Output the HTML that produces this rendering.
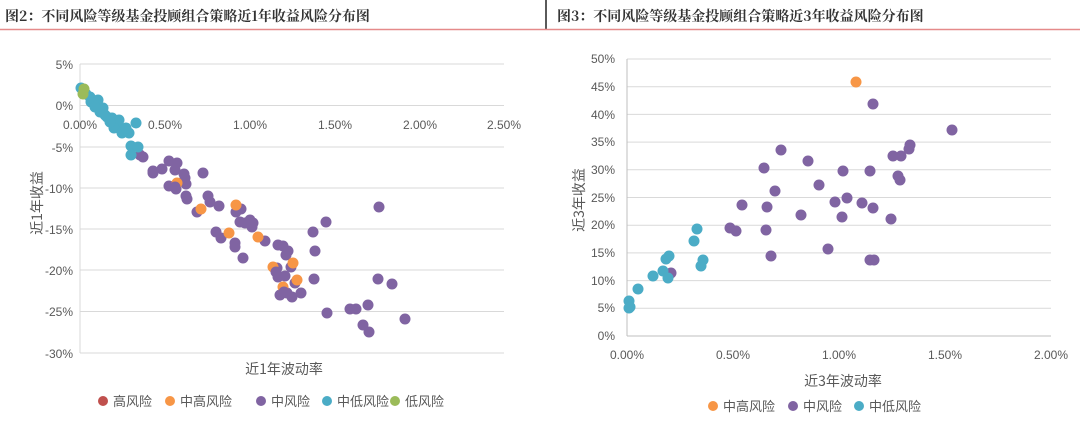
<!DOCTYPE html>
<html><head><meta charset="utf-8"><style>
body{margin:0;background:#fff;}
svg{display:block;font-family:"Liberation Sans","Noto Sans CJK SC",sans-serif;}
</style></head><body>
<svg width="1080" height="440" xmlns="http://www.w3.org/2000/svg">
<rect width="1080" height="440" fill="#fff"/>
<text x="5" y="21" font-size="14" fill="#333" font-weight="bold" font-family="'Noto Serif CJK SC',serif">图2：不同风险等级基金投顾组合策略近1年收益风险分布图</text>
<text x="557" y="21" font-size="14" fill="#333" font-weight="bold" font-family="'Noto Serif CJK SC',serif">图3：不同风险等级基金投顾组合策略近3年收益风险分布图</text>
<line x1="546" y1="0" x2="546" y2="29" stroke="#222" stroke-width="1.5"/>
<line x1="0" y1="29.5" x2="1080" y2="29.5" stroke="#e58a8a" stroke-width="1.5"/>

<!-- LEFT CHART -->
<g stroke="#d9d9d9" stroke-width="1">
<line x1="80" y1="64" x2="504" y2="64"/><line x1="80" y1="105.5" x2="504" y2="105.5"/>
<line x1="80" y1="147" x2="504" y2="147"/><line x1="80" y1="188" x2="504" y2="188"/>
<line x1="80" y1="229" x2="504" y2="229"/><line x1="80" y1="270" x2="504" y2="270"/>
<line x1="80" y1="311.5" x2="504" y2="311.5"/><line x1="80" y1="353" x2="504" y2="353"/>
<line x1="80" y1="64" x2="80" y2="353"/>
</g>
<g font-size="12" fill="#595959" text-anchor="end">
<text x="73" y="69">5%</text><text x="73" y="110">0%</text><text x="73" y="152">-5%</text>
<text x="73" y="193">-10%</text><text x="73" y="234">-15%</text><text x="73" y="275">-20%</text>
<text x="73" y="316">-25%</text><text x="73" y="358">-30%</text>
</g>
<g font-size="12" fill="#595959" text-anchor="middle">
<text x="80" y="129">0.00%</text><text x="165" y="129">0.50%</text><text x="250" y="129">1.00%</text>
<text x="335" y="129">1.50%</text><text x="420" y="129">2.00%</text><text x="504" y="129">2.50%</text>
</g>
<text x="284" y="374" font-size="14" fill="#595959" text-anchor="middle" font-family="'Noto Sans CJK SC',sans-serif">近1年波动率</text>
<text transform="translate(42,203) rotate(-90)" font-size="14" fill="#595959" text-anchor="middle" font-family="'Noto Sans CJK SC',sans-serif">近1年收益</text>

<g fill="#8064a2">
<circle cx="143" cy="157" r="5.5"/><circle cx="140" cy="155" r="5.5"/><circle cx="153" cy="171" r="5.5"/><circle cx="153" cy="173" r="5.5"/>
<circle cx="162" cy="169" r="5.5"/><circle cx="169" cy="161" r="5.5"/><circle cx="177" cy="163" r="5.5"/><circle cx="175" cy="170" r="5.5"/>
<circle cx="184" cy="174" r="5.5"/><circle cx="185" cy="178" r="5.5"/><circle cx="186" cy="184" r="5.5"/><circle cx="203" cy="173" r="5.5"/>
<circle cx="169" cy="186" r="5.5"/><circle cx="176" cy="189" r="5.5"/><circle cx="186" cy="196" r="5.5"/><circle cx="187" cy="199" r="5.5"/>
<circle cx="208" cy="196" r="5.5"/><circle cx="210" cy="202" r="5.5"/><circle cx="219" cy="206" r="5.5"/><circle cx="197" cy="212" r="5.5"/>
<circle cx="236" cy="212" r="5.5"/><circle cx="241" cy="209" r="5.5"/><circle cx="240" cy="222" r="5.5"/><circle cx="245" cy="223" r="5.5"/>
<circle cx="250" cy="220" r="5.5"/><circle cx="253" cy="223" r="5.5"/><circle cx="252" cy="227" r="5.5"/><circle cx="216" cy="232" r="5.5"/>
<circle cx="221" cy="238" r="5.5"/><circle cx="235" cy="243" r="5.5"/><circle cx="235" cy="247" r="5.5"/><circle cx="243" cy="258" r="5.5"/>
<circle cx="265" cy="241" r="5.5"/><circle cx="278" cy="245" r="5.5"/><circle cx="283" cy="246" r="5.5"/><circle cx="288" cy="251" r="5.5"/>
<circle cx="286" cy="255" r="5.5"/><circle cx="291" cy="267" r="5.5"/><circle cx="277" cy="268" r="5.5"/><circle cx="278" cy="277" r="5.5"/>
<circle cx="285" cy="276" r="5.5"/><circle cx="295" cy="283" r="5.5"/><circle cx="280" cy="295" r="5.5"/><circle cx="287" cy="293" r="5.5"/>
<circle cx="292" cy="297" r="5.5"/><circle cx="301" cy="293" r="5.5"/><circle cx="313" cy="232" r="5.5"/><circle cx="326" cy="222" r="5.5"/>
<circle cx="315" cy="251" r="5.5"/><circle cx="314" cy="279" r="5.5"/><circle cx="379" cy="207" r="5.5"/><circle cx="378" cy="279" r="5.5"/>
<circle cx="392" cy="284" r="5.5"/><circle cx="327" cy="313" r="5.5"/><circle cx="350" cy="309" r="5.5"/><circle cx="356" cy="309" r="5.5"/>
<circle cx="368" cy="305" r="5.5"/><circle cx="405" cy="319" r="5.5"/><circle cx="363" cy="325" r="5.5"/><circle cx="369" cy="332" r="5.5"/>
</g>
<g fill="#f79646">
<circle cx="177" cy="183" r="5.5"/><circle cx="201" cy="209" r="5.5"/><circle cx="236" cy="205" r="5.5"/><circle cx="229" cy="233" r="5.5"/>
<circle cx="258" cy="237" r="5.5"/><circle cx="273" cy="267" r="5.5"/><circle cx="293" cy="263" r="5.5"/><circle cx="297" cy="280" r="5.5"/>
<circle cx="283" cy="287" r="5.5"/>
</g>
<g fill="#8064a2">
<circle cx="175" cy="187" r="5.5"/><circle cx="284" cy="292" r="5.5"/><circle cx="276" cy="272" r="5.5"/>
</g>
<g fill="#4bacc6">
<circle cx="81" cy="88" r="5.5"/><circle cx="90" cy="97" r="5.5"/><circle cx="98" cy="100" r="5.5"/><circle cx="103" cy="108" r="5.5"/>
<circle cx="100" cy="112" r="5.5"/><circle cx="107" cy="117" r="5.5"/><circle cx="112" cy="118" r="5.5"/><circle cx="119" cy="120" r="5.5"/>
<circle cx="117" cy="124" r="5.5"/><circle cx="114" cy="128" r="5.5"/><circle cx="122" cy="133" r="5.5"/><circle cx="129" cy="133" r="5.5"/>
<circle cx="136" cy="123" r="5.5"/><circle cx="131" cy="146" r="5.5"/><circle cx="138" cy="147" r="5.5"/><circle cx="131" cy="155" r="5.5"/>
<circle cx="91" cy="102" r="5.5"/><circle cx="95" cy="107" r="5.5"/><circle cx="105" cy="115" r="5.5"/><circle cx="86" cy="94" r="5.5"/>
<circle cx="110" cy="122" r="5.5"/><circle cx="126" cy="128" r="5.5"/>
</g>
<g fill="#9bbb59"><circle cx="84" cy="89" r="5.5"/><circle cx="83" cy="94" r="5.5"/></g>

<g font-size="13" fill="#595959" font-family="'Noto Sans CJK SC',sans-serif">
<circle cx="103" cy="401" r="5" fill="#c0504d"/><text x="113" y="406">高风险</text>
<circle cx="170" cy="401" r="5" fill="#f79646"/><text x="180" y="406">中高风险</text>
<circle cx="261" cy="401" r="5" fill="#8064a2"/><text x="271" y="406">中风险</text>
<circle cx="327" cy="401" r="5" fill="#4bacc6"/><text x="337" y="406">中低风险</text>
<circle cx="395" cy="401" r="5" fill="#9bbb59"/><text x="405" y="406">低风险</text>
</g>

<!-- RIGHT CHART -->
<g stroke="#d9d9d9" stroke-width="1">
<line x1="627" y1="59" x2="1051" y2="59"/><line x1="627" y1="86.7" x2="1051" y2="86.7"/>
<line x1="627" y1="114.4" x2="1051" y2="114.4"/><line x1="627" y1="142.1" x2="1051" y2="142.1"/>
<line x1="627" y1="169.8" x2="1051" y2="169.8"/><line x1="627" y1="197.5" x2="1051" y2="197.5"/>
<line x1="627" y1="225.2" x2="1051" y2="225.2"/><line x1="627" y1="252.9" x2="1051" y2="252.9"/>
<line x1="627" y1="280.6" x2="1051" y2="280.6"/><line x1="627" y1="308.3" x2="1051" y2="308.3"/>
</g>
<g stroke="#bfbfbf" stroke-width="1"><line x1="627" y1="59" x2="627" y2="336"/><line x1="627" y1="336" x2="1051" y2="336"/></g>
<g font-size="12" fill="#595959" text-anchor="end">
<text x="615" y="63">50%</text><text x="615" y="91">45%</text><text x="615" y="119">40%</text><text x="615" y="146">35%</text>
<text x="615" y="174">30%</text><text x="615" y="202">25%</text><text x="615" y="229">20%</text><text x="615" y="257">15%</text>
<text x="615" y="285">10%</text><text x="615" y="312">5%</text><text x="615" y="340">0%</text>
</g>
<g font-size="12" fill="#595959" text-anchor="middle">
<text x="627" y="359">0.00%</text><text x="733" y="359">0.50%</text><text x="839" y="359">1.00%</text>
<text x="945" y="359">1.50%</text><text x="1051" y="359">2.00%</text>
</g>
<text x="843" y="386" font-size="14" fill="#595959" text-anchor="middle" font-family="'Noto Sans CJK SC',sans-serif">近3年波动率</text>
<text transform="translate(584,200) rotate(-90)" font-size="14" fill="#595959" text-anchor="middle" font-family="'Noto Sans CJK SC',sans-serif">近3年收益</text>

<g fill="#8064a2">
<circle cx="781" cy="150" r="5.5"/><circle cx="764" cy="168" r="5.5"/><circle cx="808" cy="161" r="5.5"/><circle cx="843" cy="171" r="5.5"/>
<circle cx="870" cy="171" r="5.5"/><circle cx="893" cy="156" r="5.5"/><circle cx="901" cy="156" r="5.5"/><circle cx="910" cy="145" r="5.5"/>
<circle cx="909" cy="149" r="5.5"/><circle cx="952" cy="130" r="5.5"/><circle cx="873" cy="104" r="5.5"/>
<circle cx="900" cy="180" r="5.5"/><circle cx="898" cy="176" r="5.5"/><circle cx="819" cy="185" r="5.5"/><circle cx="775" cy="191" r="5.5"/>
<circle cx="742" cy="205" r="5.5"/><circle cx="767" cy="207" r="5.5"/><circle cx="835" cy="202" r="5.5"/><circle cx="847" cy="198" r="5.5"/>
<circle cx="862" cy="203" r="5.5"/><circle cx="873" cy="208" r="5.5"/><circle cx="891" cy="219" r="5.5"/><circle cx="842" cy="217" r="5.5"/>
<circle cx="801" cy="215" r="5.5"/><circle cx="730" cy="228" r="5.5"/><circle cx="736" cy="231" r="5.5"/><circle cx="766" cy="230" r="5.5"/>
<circle cx="771" cy="256" r="5.5"/><circle cx="828" cy="249" r="5.5"/><circle cx="870" cy="260" r="5.5"/><circle cx="874" cy="260" r="5.5"/>
<circle cx="671" cy="273" r="5.5"/>
</g>
<circle cx="856" cy="82" r="5.5" fill="#f79646"/>
<g fill="#4bacc6">
<circle cx="697" cy="229" r="5.5"/><circle cx="694" cy="241" r="5.5"/><circle cx="703" cy="260" r="5.5"/><circle cx="701" cy="266" r="5.5"/>
<circle cx="669" cy="256" r="5.5"/><circle cx="666" cy="259" r="5.5"/><circle cx="663" cy="271" r="5.5"/><circle cx="653" cy="276" r="5.5"/>
<circle cx="668" cy="278" r="5.5"/><circle cx="638" cy="289" r="5.5"/><circle cx="629" cy="301" r="5.5"/><circle cx="630" cy="307" r="5.5"/>
<circle cx="629" cy="308" r="5.5"/>
</g>

<g font-size="13" fill="#595959" font-family="'Noto Sans CJK SC',sans-serif">
<circle cx="713" cy="406" r="5" fill="#f79646"/><text x="723" y="411">中高风险</text>
<circle cx="793" cy="406" r="5" fill="#8064a2"/><text x="803" y="411">中风险</text>
<circle cx="859" cy="406" r="5" fill="#4bacc6"/><text x="869" y="411">中低风险</text>
</g>
</svg>
</body></html>
